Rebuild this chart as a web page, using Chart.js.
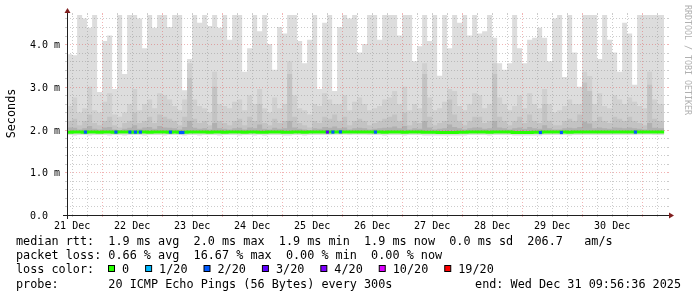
<!DOCTYPE html>
<html><head><meta charset="utf-8">
<script src="https://cdn.jsdelivr.net/npm/chart.js@4.4.1/dist/chart.umd.min.js"></script>
<style>html,body{margin:0;padding:0;background:#fff;}#wrap{width:697px;height:297px;}</style>
</head><body><div id="wrap"><canvas id="c" width="697" height="297"></canvas></div>
<script>
// time axis: hours counted from Dec 21 00:00
const startHour = 9.9433;   // Wed Dec 21 09:56:36
const endHour = 249.9433;   // Wed Dec 31 09:56:36
const colStart = 10, colStep = 2, dataEnd = 248.8;
const yMax = 4.68;

const xTickHours = [12,36,60,84,108,132,156,180,204,228];
const xTickLabels = ["21 Dec","22 Dec","23 Dec","24 Dec","25 Dec","26 Dec","27 Dec","28 Dec","29 Dec","30 Dec"];
const yTickValues = [0,1,2,3,4];
const yTickLabels = ["0.0","1.0 m","2.0 m","3.0 m","4.0 m"];

// smoke layers (ms), one value per 2-hour column
const smokeMax = [3.75,3.76,3.74,4.8,4.6,4.38,4.8,2.88,4.07,4.2,2.95,4.8,3.3,4.8,4.8,4.6,3.9,4.8,4.38,4.8,4.8,4.4,4.8,4.8,2.92,3.65,4.8,4.5,4.8,4.42,
 4.8,4.38,4.8,4.1,4.8,4.8,3.35,3.9,4.8,4.3,4.8,4.0,3.4,4.4,4.25,4.8,4.8,4.07,3.55,4.1,4.8,2.95,4.5,4.8,2.9,4.4,4.8,4.6,4.8,3.8,
 4.0,4.8,4.8,4.1,4.8,4.8,4.8,4.2,4.8,4.8,3.6,3.95,4.8,4.07,4.8,3.26,4.8,3.9,4.8,4.5,4.8,4.2,4.8,4.25,4.3,4.8,4.15,3.55,3.4,3.55,
 4.8,3.9,3.55,4.1,4.15,4.38,4.15,3.6,4.6,4.8,3.23,4.8,3.8,3.0,4.8,4.8,4.8,3.65,4.8,4.1,3.8,3.35,4.5,4.25,3.05,4.8,4.8,4.8,4.8,4.8];
const smokeB = [2.5,2.55,2.75,2.4,2.5,3.0,2.45,2.4,2.65,2.85,2.35,2.3,2.4,2.6,2.95,2.45,2.6,2.7,2.5,2.85,2.8,2.7,2.55,2.45,2.7,3.55,2.7,2.55,2.5,2.4,
 3.35,2.6,2.55,2.5,2.65,2.7,2.45,2.8,2.6,2.95,2.5,2.4,2.75,2.5,2.6,3.6,2.8,2.5,2.45,2.35,2.6,2.55,2.85,2.7,2.6,2.6,2.8,2.45,2.65,2.75,
 2.6,2.45,2.5,2.55,2.7,2.75,2.9,2.6,3.0,2.45,2.6,2.5,3.55,2.75,2.45,2.5,2.65,2.95,2.9,2.55,2.45,2.6,2.85,2.8,2.5,2.6,3.55,2.75,2.6,2.45,
 2.55,2.8,2.5,2.85,2.6,2.5,2.95,2.6,2.4,2.45,2.55,2.7,2.6,2.6,3.35,3.25,2.6,2.85,2.55,2.5,2.8,2.7,2.6,2.75,2.65,2.55,2.5,3.35,2.7,2.6];
const smokeC = [2.15,2.2,2.25,2.1,2.2,2.35,2.15,2.1,2.2,2.3,2.1,2.05,2.15,2.2,2.4,2.15,2.2,2.3,2.15,2.35,2.3,2.25,2.2,2.1,2.3,3.2,2.25,2.15,2.2,2.1,
 3.0,2.2,2.15,2.1,2.2,2.25,2.1,2.3,2.2,2.6,2.15,2.1,2.25,2.15,2.2,3.3,2.3,2.15,2.1,2.05,2.2,2.15,2.3,2.25,2.35,2.2,2.3,2.1,2.2,2.25,
 2.2,2.1,2.15,2.2,2.25,2.3,2.35,2.2,2.4,2.1,2.2,2.15,3.3,2.3,2.1,2.15,2.2,2.7,2.35,2.2,2.1,2.2,2.3,2.3,2.15,2.2,3.3,2.3,2.2,2.1,
 2.2,2.3,2.15,2.35,2.2,2.15,2.6,2.2,2.1,2.1,2.2,2.25,2.2,2.35,3.1,2.9,2.2,2.3,2.2,2.15,2.3,2.25,2.2,2.3,2.2,2.15,2.1,3.05,2.25,2.2];
const smokeD = [2.02,2.05,2.04,2.0,2.03,2.08,2.02,2.0,2.05,2.06,2.0,1.99,2.02,2.04,2.1,2.02,2.05,2.06,2.02,2.08,2.05,2.04,2.03,2.0,2.06,2.2,2.04,2.02,2.03,2.0,
 2.15,2.03,2.02,2.0,2.03,2.04,2.0,2.05,2.03,2.12,2.02,2.0,2.04,2.02,2.03,2.2,2.05,2.02,2.0,1.99,2.03,2.02,2.06,2.04,2.07,2.03,2.05,2.0,2.03,2.04,
 2.03,2.0,2.02,2.03,2.04,2.05,2.07,2.03,2.08,2.0,2.03,2.02,2.2,2.05,2.0,2.02,2.03,2.12,2.06,2.03,2.0,2.03,2.05,2.05,2.02,2.03,2.2,2.05,2.03,2.0,
 2.03,2.05,2.02,2.06,2.03,2.02,2.1,2.03,2.0,2.0,2.03,2.04,2.03,2.06,2.18,2.14,2.03,2.05,2.03,2.02,2.05,2.04,2.03,2.05,2.03,2.02,2.0,2.15,2.04,2.03];
const smokeMin = [1.87,1.87,1.86,1.87,1.87,1.86,1.87,1.87,1.87,1.86,1.87,1.87,1.86,1.87,1.87,1.87,1.86,1.87,1.87,1.87,1.86,1.87,1.87,1.87,1.86,1.87,1.87,1.86,1.87,1.87,
 1.87,1.86,1.87,1.87,1.87,1.86,1.87,1.87,1.86,1.87,1.86,1.87,1.87,1.87,1.86,1.86,1.87,1.87,1.86,1.87,1.87,1.87,1.87,1.87,1.88,1.88,1.88,1.87,1.88,1.88,
 1.88,1.87,1.87,1.87,1.86,1.87,1.87,1.87,1.86,1.87,1.87,1.87,1.86,1.86,1.86,1.86,1.86,1.86,1.86,1.86,1.86,1.87,1.87,1.87,1.87,1.86,1.87,1.87,1.87,1.87,
 1.86,1.86,1.86,1.86,1.86,1.86,1.87,1.87,1.87,1.87,1.87,1.86,1.87,1.87,1.87,1.87,1.87,1.87,1.87,1.87,1.87,1.87,1.87,1.87,1.87,1.88,1.88,1.88,1.87,1.87];
const medianRtt = [1.94,1.935,1.94,1.94,1.935,1.94,1.94,1.935,1.94,1.94,1.935,1.94,1.94,1.94,1.935,1.94,1.94,1.935,1.94,1.94,1.94,1.935,1.94,1.935,1.935,1.94,1.94,1.94,1.94,1.935,
 1.94,1.94,1.935,1.94,1.94,1.94,1.935,1.94,1.94,1.935,1.935,1.94,1.94,1.94,1.935,1.935,1.94,1.94,1.935,1.94,1.94,1.94,1.94,1.94,1.945,1.945,1.945,1.945,1.945,1.945,
 1.945,1.94,1.94,1.94,1.935,1.94,1.94,1.94,1.935,1.94,1.94,1.94,1.935,1.935,1.935,1.93,1.93,1.93,1.93,1.935,1.935,1.94,1.94,1.94,1.94,1.935,1.94,1.94,1.94,1.94,
 1.93,1.93,1.93,1.93,1.935,1.935,1.94,1.94,1.94,1.94,1.94,1.935,1.94,1.94,1.94,1.94,1.94,1.94,1.94,1.94,1.94,1.94,1.94,1.94,1.94,1.945,1.945,1.945,1.94,1.94];

// median points with packet loss
const loss2Hours = [17.3,29.5,35.1,37.3,39.3,51.3,55.3,56.3,116.3,119.3,133.3,199.3,207.7,237.3];
const loss2Rtt   = [1.94,1.94,1.94,1.94,1.94,1.94,1.93,1.93,1.94,1.945,1.94,1.93,1.93,1.94];
const loss3Hours = [114.1];
const loss3Rtt   = [1.94];

const lossLabels = ["0","1/20","2/20","3/20","4/20","10/20","19/20"];
const lossColors = ["#26ff00","#00b8ff","#0059ff","#5e00ff","#7e00ff","#dd00ff","#ff0000"];

const legendLine1 = "median rtt:  1.9 ms avg  2.0 ms max  1.9 ms min  1.9 ms now  0.0 ms sd  206.7   am/s";
const legendLine2 = "packet loss: 0.66 % avg  16.67 % max  0.00 % min  0.00 % now";
const legendLine3 = "loss color:";
const legendLine4 = "probe:       20 ICMP Echo Pings (56 Bytes) every 300s";
const endText = "end: Wed Dec 31 09:56:36 2025";

function series(vals){
  const pts = vals.map((v,i)=>({x: colStart + colStep*i, y: v}));
  pts.push({x: dataEnd, y: vals[vals.length-1]});
  return pts;
}
const none = 'rgba(0,0,0,0)';
function smoke(vals, color, target, order){
  return {data: series(vals), stepped:'after', borderWidth:0, borderColor:none,
          backgroundColor:color, fill:{target:target}, pointRadius:0, order:order};
}

const MONO = '"DejaVu Sans Mono", "Liberation Mono", monospace';

function seg(ctx,x1,y1,x2,y2){ctx.beginPath();ctx.moveTo(x1,y1);ctx.lineTo(x2,y2);ctx.stroke();}

function drawGrid(chart){
  const {ctx, chartArea:a, scales:{x, y}} = chart;
  const L=a.left, R=a.right, T=a.top, B=a.bottom;
  const minorC='rgba(143,143,143,0.45)', majorC='rgba(222,79,79,0.42)';
  ctx.save();
  ctx.lineWidth = 1;
  for (let k=1; k/5 <= yMax; k++){
    const py = Math.round(y.getPixelForValue(k/5)) + 0.5;
    ctx.strokeStyle = (k%5===0)?majorC:minorC;
    ctx.setLineDash([1,2]); seg(ctx,L,py,R,py);
    ctx.setLineDash([]); seg(ctx,L-2,py,L,py); seg(ctx,R,py,R+2,py);
  }
  for (let h=Math.ceil(startHour/6)*6; h<=endHour; h+=6){
    const px = Math.round(x.getPixelForValue(h)) + 0.5;
    ctx.strokeStyle = (h%24===0)?majorC:minorC;
    ctx.setLineDash([1,2]); seg(ctx,px,B,px,T);
    ctx.setLineDash([]); seg(ctx,px,B,px,B+2); seg(ctx,px,T-2,px,T);
  }
  ctx.restore();
}

function drawFrame(chart){
  const {ctx, chartArea:a, scales:{x, y}} = chart;
  const L=a.left, R=a.right, T=a.top, B=a.bottom;
  ctx.save();
  ctx.setLineDash([]);
  ctx.lineWidth=1; ctx.strokeStyle='#1f1f1f';
  seg(ctx, L-4, B+0.5, R+4, B+0.5);
  seg(ctx, L+0.5, B+4, L+0.5, T-4);
  ctx.fillStyle='#801f1f';
  ctx.beginPath(); ctx.moveTo(R+2,B-2.5); ctx.lineTo(R+2,B+3.5); ctx.lineTo(R+7,B+0.5); ctx.closePath(); ctx.fill();
  ctx.beginPath(); ctx.moveTo(L-2.5,T-2); ctx.lineTo(L+3.5,T-2); ctx.lineTo(L+0.5,T-7); ctx.closePath(); ctx.fill();

  ctx.fillStyle='#000';
  ctx.font='10px '+MONO;
  ctx.textBaseline='alphabetic';
  ctx.textAlign='left';
  yTickValues.forEach((v,i)=>{
    const py = Math.round(y.getPixelForValue(v));
    ctx.fillText(yTickLabels[i], 30, py+4);
  });
  ctx.textAlign='center';
  xTickHours.forEach((h,i)=>{
    ctx.fillText(xTickLabels[i], x.getPixelForValue(h), 229);
  });

  ctx.font='11.8px '+MONO;
  ctx.textAlign='left';
  ctx.fillText(legendLine1, 16, 245);
  ctx.fillText(legendLine2, 16, 259);
  ctx.fillText(legendLine3, 16, 273);
  ctx.fillText(legendLine4, 16, 288);
  ctx.textAlign='right';
  ctx.fillText(endText, 681, 288);
  ctx.textAlign='left';
  let bx = 108;
  lossLabels.forEach((lab,i)=>{
    ctx.fillStyle=lossColors[i];
    ctx.fillRect(bx+0.5,265.5,6,6);
    ctx.strokeStyle='#000'; ctx.lineWidth=1;
    ctx.strokeRect(bx+0.5,265.5,6,6);
    ctx.fillStyle='#000';
    const tx = bx+14;
    ctx.fillText(lab, tx, 273);
    bx = tx + ctx.measureText(lab).width + 16;
  });

  ctx.save();
  ctx.translate(15, 113.5); ctx.rotate(-Math.PI/2);
  ctx.textAlign='center'; ctx.fillStyle='#000';
  ctx.fillText('Seconds', 0, 0);
  ctx.restore();
  ctx.save();
  ctx.translate(684.5, 5); ctx.rotate(Math.PI/2);
  ctx.font='8.3px '+MONO; ctx.textAlign='left'; ctx.fillStyle='#b0b0b0';
  ctx.fillText('RRDTOOL / TOBI OETIKER', 0, 0);
  ctx.restore();
  ctx.restore();
}

const rrdPlugin = {
  id:'rrd',
  beforeDraw(chart){ const c=chart.ctx; c.save(); c.fillStyle='#fff'; c.fillRect(0,0,chart.width,chart.height); c.restore(); },
  beforeDatasetDraw(chart,args){ if(args.index===1) drawGrid(chart); },
  afterDraw(chart){ drawFrame(chart); }
};

new Chart(document.getElementById('c'), {
  type:'line',
  data:{datasets:[
    {data:series(smokeMin), stepped:'after', borderWidth:0, borderColor:none, fill:false, pointRadius:0, order:7},
    {data:series(medianRtt), stepped:'after', borderWidth:3, borderColor:'#26ff00', borderCapStyle:'butt', fill:false, pointRadius:0, order:1},
    smoke(smokeMax, '#dddddd', 0, 6),
    smoke(smokeB, '#d0d0d0', 1, 5),
    smoke(smokeC, '#c3c3c3', 1, 4),
    smoke(smokeD, '#b0b0b0', 1, 3),
    {data:loss2Hours.map((h,i)=>({x:h,y:loss2Rtt[i]})), showLine:false, pointStyle:'rect', pointRadius:2.2,
     pointBackgroundColor:'#0059ff', pointBorderWidth:0, borderColor:none, order:0},
    {data:loss3Hours.map((h,i)=>({x:h,y:loss3Rtt[i]})), showLine:false, pointStyle:'rect', pointRadius:2.2,
     pointBackgroundColor:'#5e00ff', pointBorderWidth:0, borderColor:none, order:0}
  ]},
  options:{
    responsive:false, animation:false, events:[],
    layout:{padding:{left:67,right:30,top:15,bottom:82}},
    scales:{
      x:{type:'linear', min:startHour, max:endHour, display:false},
      y:{type:'linear', min:0, max:yMax, display:false}
    },
    plugins:{legend:{display:false}, tooltip:{enabled:false}}
  },
  plugins:[rrdPlugin]
});
</script>
</body></html>
